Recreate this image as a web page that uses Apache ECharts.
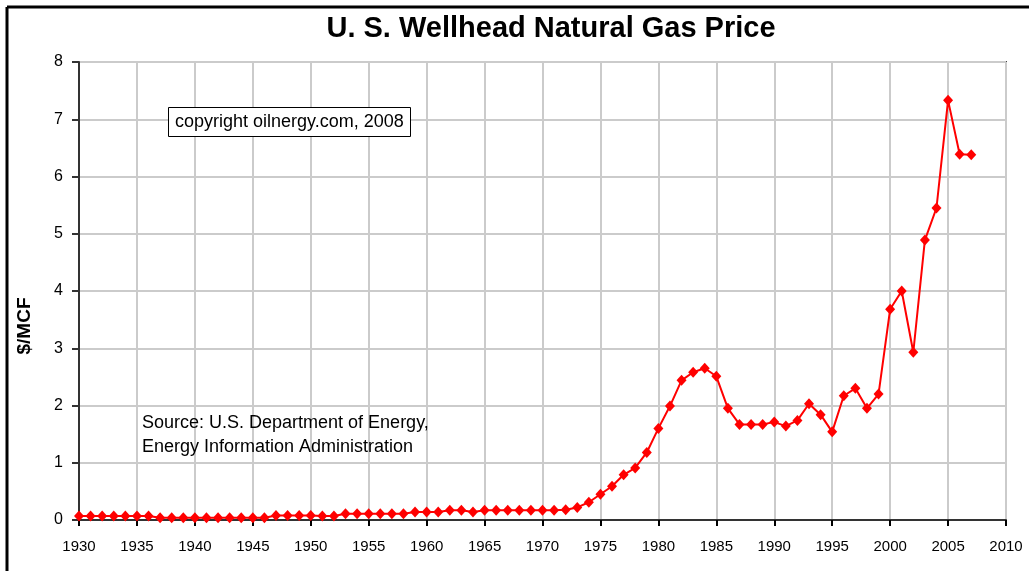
<!DOCTYPE html>
<html lang="en">
<head>
    <meta charset="UTF-8">
    <title>U. S. Wellhead Natural Gas Price</title>
    <style>
        html, body { margin: 0; padding: 0; background: #fff; }
        #chart { width: 1029px; height: 571px; }
    </style>
    <script src="https://cdn.jsdelivr.net/npm/echarts@6.0.0/dist/echarts.min.js"></script>
</head>
<body>
    <div id="chart"></div>
    <script type="text/javascript">
        // years 1930..2007, one point per year
        var years = [];
        for (var y = 1930; y <= 2007; y++) years.push(y);

        // $/MCF
        var prices = [
            0.07, 0.07, 0.07, 0.07, 0.07, 0.07, 0.07, 0.04, 0.04, 0.04,   // 1930s
            0.04, 0.04, 0.04, 0.04, 0.04, 0.04, 0.04, 0.08, 0.08, 0.08,   // 1940s
            0.08, 0.07, 0.07, 0.11, 0.11, 0.11, 0.11, 0.11, 0.11, 0.14,   // 1950s
            0.14, 0.14, 0.17, 0.17, 0.14, 0.17, 0.17, 0.17, 0.17, 0.17,   // 1960s
            0.17, 0.17, 0.18, 0.22, 0.31, 0.45, 0.59, 0.79, 0.91, 1.18,   // 1970s
            1.60, 1.99, 2.44, 2.58, 2.65, 2.51, 1.95, 1.67, 1.67, 1.67,   // 1980s
            1.71, 1.64, 1.74, 2.03, 1.84, 1.54, 2.17, 2.30, 1.95, 2.20,   // 1990s
            3.68, 4.00, 2.93, 4.89, 5.45, 7.33, 6.39, 6.38                // 2000s
        ];

        var xTicks = { min: 1930, max: 2010, step: 5 };
        var yTicks = { min: 0, max: 8, step: 1 };

        var font = 'Arial, "Liberation Sans", sans-serif';

        var chart = echarts.init(document.getElementById('chart'));
        var option = {
            animation: false,
            backgroundColor: '#fff',
            title: [{
                text: 'U. S. Wellhead Natural Gas Price',
                left: 546,
                textAlign: 'center',
                top: 9,
                textStyle: { fontFamily: font, fontSize: 29, fontWeight: 'bold', color: '#000' }
            }, {
                text: 'copyright oilnergy.com, 2008',
                left: 168,
                top: 107,
                padding: [6, 7, 6, 7],
                borderColor: '#000',
                borderWidth: 1,
                backgroundColor: '#fff',
                textStyle: { fontFamily: font, fontSize: 18, fontWeight: 'normal', color: '#000' }
            }, {
                text: 'Source: U.S. Department of Energy,\nEnergy Information Administration',
                left: 137,
                top: 406,
                textStyle: { fontFamily: font, fontSize: 18, fontWeight: 'normal', color: '#000', lineHeight: 24 }
            }],
            graphic: [
                { type: 'line', shape: { x1: 7, y1: 7, x2: 1029, y2: 7 }, style: { stroke: '#000', lineWidth: 3 } },
                { type: 'line', shape: { x1: 7, y1: 7, x2: 7, y2: 571 }, style: { stroke: '#000', lineWidth: 3 } },
                {
                    type: 'text', x: 25, y: 326, rotation: Math.PI / 2,
                    style: { text: '$/MCF', font: 'bold 19px ' + font, fill: '#000', align: 'center', verticalAlign: 'middle' }
                }
            ],
            grid: {
                left: 79, right: 23, top: 62, bottom: 51,
                show: true, borderColor: '#444', borderWidth: 2
            },
            xAxis: {
                type: 'value',
                min: xTicks.min, max: xTicks.max, interval: xTicks.step,
                axisLine: { lineStyle: { color: '#333', width: 2 } },
                axisTick: { show: true, length: 6, lineStyle: { color: '#000', width: 2 } },
                axisLabel: {
                    margin: 19, fontFamily: font, fontSize: 15, color: '#000',
                    formatter: function (v) { return String(v); }
                },
                splitLine: { show: true, lineStyle: { color: '#cbcbcb', width: 2 } }
            },
            yAxis: {
                type: 'value',
                min: yTicks.min, max: yTicks.max, interval: yTicks.step,
                axisLine: { show: true, lineStyle: { color: '#333', width: 2 } },
                axisTick: { show: true, length: 7, lineStyle: { color: '#333', width: 2 } },
                axisLabel: { margin: 16, fontFamily: font, fontSize: 16, color: '#000' },
                splitLine: { show: true, lineStyle: { color: '#cbcbcb', width: 2 } }
            },
            series: [{
                type: 'line',
                data: years.map(function (yr, i) { return [yr, prices[i]]; }),
                symbol: 'diamond',
                symbolSize: [10, 11],
                showAllSymbol: true,
                lineStyle: { color: '#ff0000', width: 2 },
                itemStyle: { color: '#ff0000' },
                z: 3
            }]
        };
        chart.setOption(option);
    </script>
</body>
</html>
